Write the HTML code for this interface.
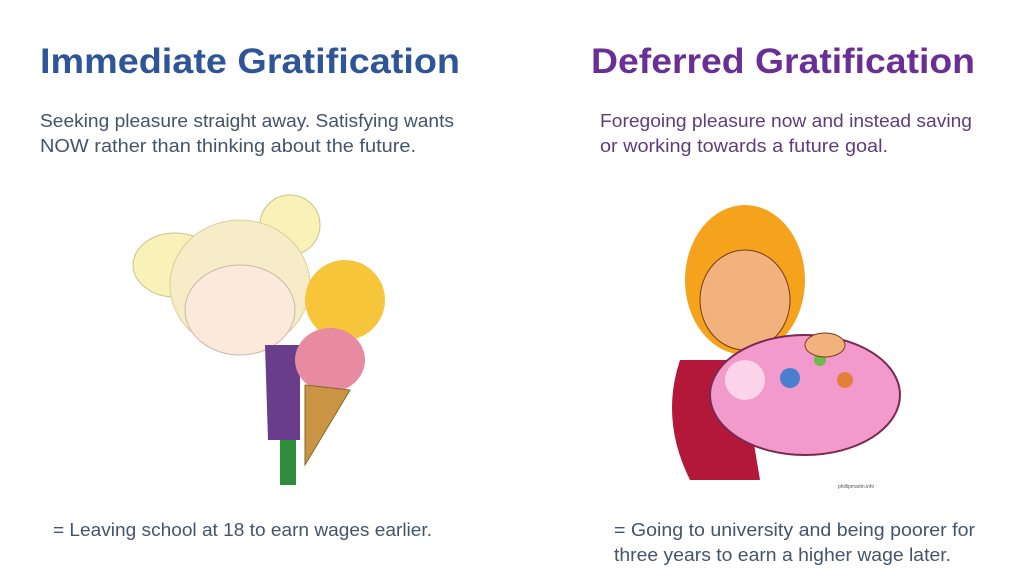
<!DOCTYPE html>
<html><head><meta charset="utf-8"><style>
html,body{margin:0;padding:0;background:#fff}
svg{display:block}
text{font-family:"Liberation Sans",sans-serif}
</style></head><body>
<svg width="1024" height="576" viewBox="0 0 1024 576">
<rect width="1024" height="576" fill="#fff"/>
<text x="40" y="73" font-size="35" font-weight="bold" fill="#2e5597" textLength="420" lengthAdjust="spacingAndGlyphs">Immediate Gratification</text>
<text x="591" y="73" font-size="35" font-weight="bold" fill="#6a2f95" textLength="384" lengthAdjust="spacingAndGlyphs">Deferred Gratification</text>
<g fill="#44546a" font-size="18">
<text x="40" y="127" textLength="414" lengthAdjust="spacingAndGlyphs">Seeking pleasure straight away. Satisfying wants</text>
<text x="40" y="152" textLength="376" lengthAdjust="spacingAndGlyphs">NOW rather than thinking about the future.</text>
</g>
<g fill="#5c3e7a" font-size="18">
<text x="600" y="127" textLength="372" lengthAdjust="spacingAndGlyphs">Foregoing pleasure now and instead saving</text>
<text x="600" y="152" textLength="288" lengthAdjust="spacingAndGlyphs">or working towards a future goal.</text>
</g>
<text x="53" y="536" font-size="18" fill="#44546a" textLength="379" lengthAdjust="spacingAndGlyphs">= Leaving school at 18 to earn wages earlier.</text>
<g fill="#44546a" font-size="18">
<text x="614" y="536" textLength="361" lengthAdjust="spacingAndGlyphs">= Going to university and being poorer for</text>
<text x="614" y="561" textLength="337" lengthAdjust="spacingAndGlyphs">three years to earn a higher wage later.</text>
</g>
<!-- left illustration -->
<g>
<circle cx="290" cy="225" r="30" fill="#f8f1b8" stroke="#c9c48a"/>
<ellipse cx="175" cy="265" rx="42" ry="32" fill="#f8f1b8" stroke="#c9c48a"/>
<ellipse cx="240" cy="285" rx="70" ry="65" fill="#f6ecc8" stroke="#d8cf9a"/>
<ellipse cx="240" cy="310" rx="55" ry="45" fill="#fbe9dc" stroke="#cdb9a8"/>
<path d="M265 345 L300 345 L300 440 L268 440 Z" fill="#6a3d8c"/>
<rect x="280" y="440" width="16" height="45" fill="#2f8c3a"/>
<ellipse cx="345" cy="300" rx="40" ry="40" fill="#f6c53a"/>
<ellipse cx="330" cy="360" rx="35" ry="32" fill="#e88aa0"/>
<path d="M305 385 L350 390 L305 465 Z" fill="#c99545" stroke="#8a6324"/>
</g>
<!-- right illustration -->
<g>
<ellipse cx="745" cy="280" rx="60" ry="75" fill="#f5a21c"/>
<ellipse cx="745" cy="300" rx="45" ry="50" fill="#f2b27e" stroke="#7a3a1a"/>
<path d="M680 360 Q660 420 690 480 L760 480 L740 360 Z" fill="#b3183a"/>
<ellipse cx="805" cy="395" rx="95" ry="60" fill="#f19acb" stroke="#7a2a52" stroke-width="2"/>
<circle cx="745" cy="380" r="20" fill="#fbd3ea"/>
<circle cx="790" cy="378" r="10" fill="#4a7fd0"/>
<circle cx="845" cy="380" r="8" fill="#e2803a"/>
<circle cx="820" cy="360" r="6" fill="#6dbb4a"/>
<ellipse cx="825" cy="345" rx="20" ry="12" fill="#f2b27e" stroke="#7a3a1a"/>
</g>
<text x="838" y="488" font-size="5" fill="#555">phillipmartin.info</text>
</svg>
</body></html>
